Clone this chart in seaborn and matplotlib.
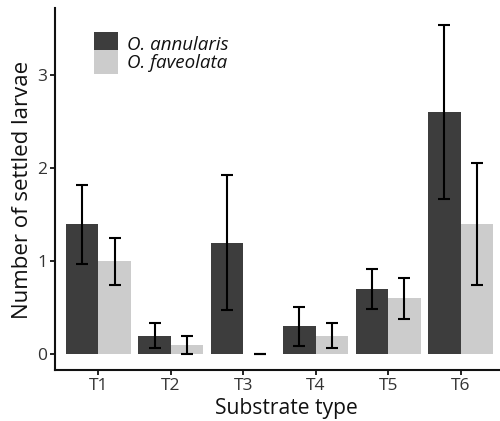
import matplotlib
matplotlib.use("Agg")
import matplotlib.pyplot as plt
import seaborn as sns
import pandas as pd
import numpy as np

substrates = ["T1", "T2", "T3", "T4", "T5", "T6"]
species = ["O. annularis", "O. faveolata"]
annularis_mean = [1.40, 0.20, 1.20, 0.30, 0.70, 2.60]
annularis_low = [0.97, 0.07, 0.47, 0.09, 0.49, 1.67]
annularis_high = [1.82, 0.33, 1.93, 0.51, 0.91, 3.54]
faveolata_mean = [1.00, 0.10, 0.00, 0.20, 0.60, 1.40]
faveolata_low = [0.74, 0.00, 0.00, 0.07, 0.38, 0.745]
faveolata_high = [1.25, 0.20, 0.00, 0.33, 0.82, 2.05]
colors = ["#3d3d3d", "#cccccc"]

df = pd.DataFrame({
    "Substrate": substrates * 2,
    "Species": [species[0]] * 6 + [species[1]] * 6,
    "mean": annularis_mean + faveolata_mean,
    "low": annularis_low + faveolata_low,
    "high": annularis_high + faveolata_high,
})

sns.set_style("white")
plt.rcParams["font.family"] = ["Open Sans", "DejaVu Sans"]

fig = plt.figure(figsize=(5.0, 4.21), dpi=100)
ax = fig.add_axes([55 / 500, (421 - 370) / 421, (504 - 55) / 500, (370 - 8) / 421])

sns.barplot(data=df, x="Substrate", y="mean", hue="Species", order=substrates,
            hue_order=species, palette=colors, width=0.9, gap=0,
            errorbar=None, saturation=1, linewidth=0, ax=ax, legend=True)

# error bars at the centres of the bars drawn by seaborn
for i, sp in enumerate(species):
    sub = df[df["Species"] == sp].set_index("Substrate").loc[substrates]
    bars = ax.containers[i]
    xs = [b.get_x() + b.get_width() / 2 for b in bars]
    m = sub["mean"].values
    yerr = np.vstack([m - sub["low"].values, sub["high"].values - m])
    ax.errorbar(xs, m, yerr=yerr, fmt="none", ecolor="black",
                elinewidth=1.5, capsize=4.5, capthick=1.5, zorder=5)

ax.set_xlim(-0.6, 5.6)
ax.set_ylim(-0.17, 3.72)
ax.set_yticks([0, 1, 2, 3])
ax.set_xlabel("Substrate type", fontsize=15.2, color="#111111")
ax.set_ylabel("Number of settled larvae", fontsize=16.0, color="#111111")
ax.xaxis.set_label_coords((286 - 55) / 449, -0.078)
ax.yaxis.set_label_coords((33 - 55) / 449, (370 - 190) / 362)
ax.tick_params(axis="both", which="both", direction="out", length=3.5, width=1.3,
               colors="#111111", labelsize=12.5, labelcolor="#333333", pad=2)
ax.tick_params(axis="x", bottom=True)
ax.tick_params(axis="y", left=True)
for s in ["top", "right"]:
    ax.spines[s].set_visible(False)
for s in ["left", "bottom"]:
    ax.spines[s].set_color("#111111")
    ax.spines[s].set_linewidth(1.5)

hh = 1.59
leg = ax.legend(loc="upper left", bbox_to_anchor=(0.087, 0.934), frameon=False,
                handlelength=1.28, handleheight=hh, handletextpad=0.45,
                labelspacing=-0.35 * (hh - 0.7), borderaxespad=0, borderpad=0,
                fontsize=13.5)
for t in leg.get_texts():
    t.set_fontstyle("italic")
    t.set_color("#111111")

fig.savefig("out.png", dpi=100)
